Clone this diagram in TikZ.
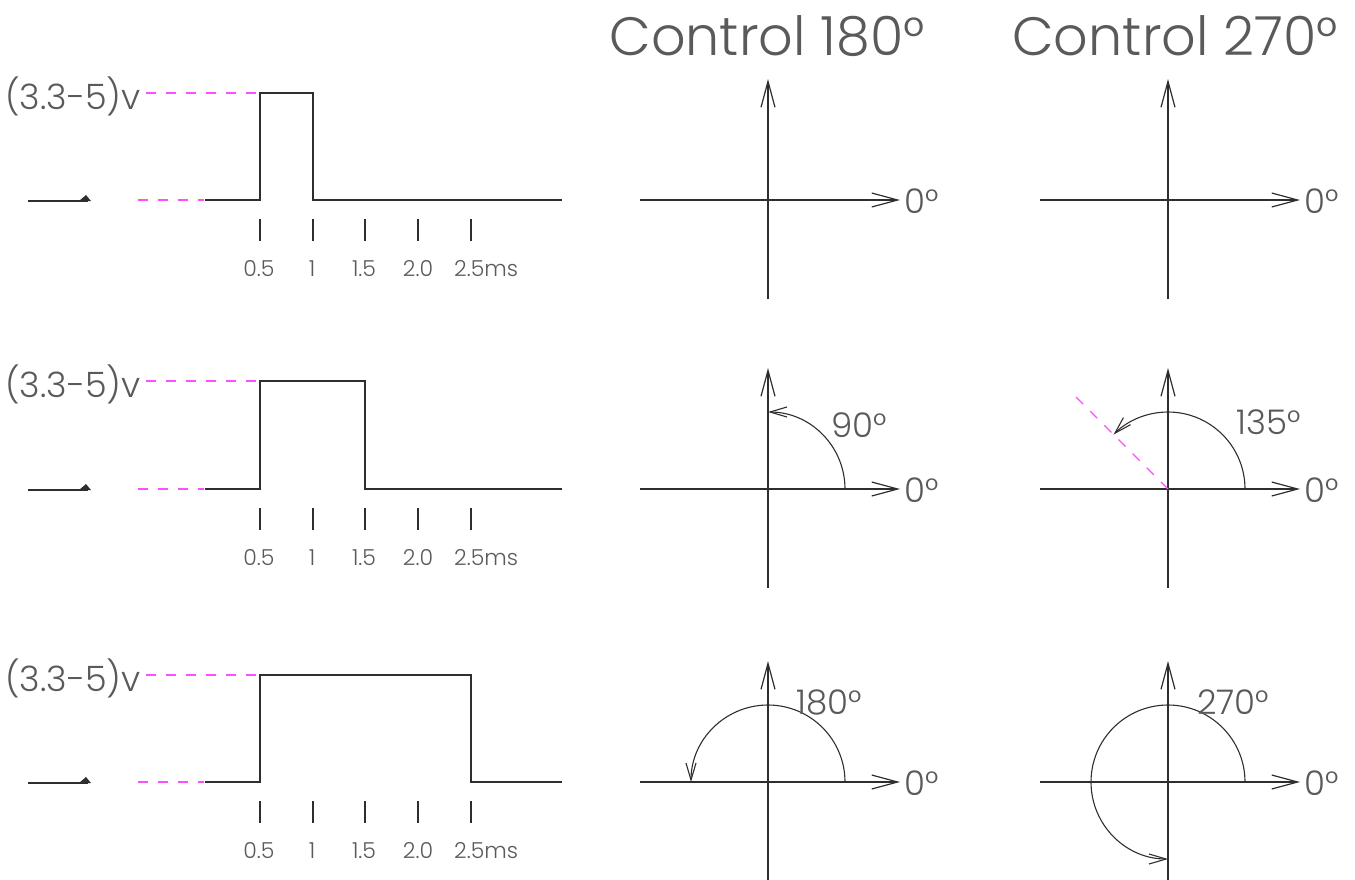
\documentclass[tikz,border=0pt]{standalone}
\usepackage{fontspec}
\setmainfont{Poppins}[UprightFont=* Light]
\usetikzlibrary{arrows.meta}
\definecolor{ink}{HTML}{2E2E2E}
\definecolor{txt}{HTML}{5A5A5A}
\definecolor{mag}{HTML}{FF4DFF}
\tikzset{
  wave/.style={draw=ink, line width=1.3pt, line join=miter},
  tickline/.style={draw=ink, line width=1.1pt},
  magdash/.style={draw=mag, line width=1.2pt, dash pattern=on 10pt off 10pt},
  axis/.style={draw=ink, line width=1.2pt, -{Straight Barb[length=26pt,width=14pt,line width=1.2pt]}},
  arcarrow/.style={draw=ink, line width=1.1pt, -{Straight Barb[length=17pt,width=10pt,line width=1.1pt]}},
  ticklbl/.style={text=txt, inner sep=0pt, font=\fontsize{22}{22}\selectfont},
  volt/.style={text=txt, inner sep=0pt, font=\fontsize{35}{35}\selectfont},
  deg/.style={text=txt, inner sep=0pt, font=\fontsize{34}{34}\selectfont},
  title/.style={text=txt, inner sep=0pt, font=\fontsize{54}{54}\selectfont},
}
\begin{document}
\begin{tikzpicture}[x=1pt,y=1pt]
\useasboundingbox (0,0) rectangle (1355,-879);

% titles
\node[title] (t1) at (767,-36) {Control 180°};
\node[title] (t2) at (1175,-36) {Control 270°};

% waveforms
\foreach \r/\b/\h/\f in {1/200/93/313, 2/489/381/365, 3/782/675/471} {
  \coordinate (s\r) at (205,-\b);
  \coordinate (up\r) at (260,-\h);
  \coordinate (dn\r) at (\f,-\b);
  \coordinate (e\r) at (562,-\b);
  \draw[wave] (s\r) -| (up\r) -| (dn\r) -- (e\r);
  % ground-like mark
  \coordinate (g\r) at (28,-\b-1);
  \coordinate (gh\r) at (88,-\b-1);
  \draw[ink, line width=1.6pt] (g\r) -- (gh\r);
  \fill[ink] (79,-\b-1) -- (91,-\b-1) -- (86,-\b+5) -- cycle;
  % voltage label and dashed guides
  \node[volt, anchor=east] (v\r) at (141,-\h-3) {(3.3-5)v};
  \coordinate (hd\r) at (146,-\h);
  \coordinate (hu\r) at (259,-\h);
  \draw[magdash] (hd\r) -- (hu\r);
  \coordinate (bd\r) at (138,-\b);
  \coordinate (bu\r) at (204,-\b);
  \draw[magdash] (bd\r) -- (bu\r);
  % ticks
  \foreach \x in {260,313,365,418,471} {
    \draw[tickline] (\x,-\b-19) -- (\x,-\b-41);
  }
  \node[ticklbl] (la\r) at (259,-\b-69) {0.5};
  \node[ticklbl] (lb\r) at (312,-\b-69) {1};
  \node[ticklbl] (lc\r) at (364,-\b-69) {1.5};
  \node[ticklbl] (ld\r) at (418,-\b-69) {2.0};
  \node[ticklbl, anchor=west] (le\r) at (454,-\b-69) {2.5ms};
  % axes
  \foreach \c/\cx in {A/768, B/1168} {
    \coordinate (o\c\r) at (\cx,-\b);
    \coordinate (xl\c\r) at (\cx-128,-\b);
    \coordinate (xr\c\r) at (\cx+132,-\b);
    \coordinate (yb\c\r) at (\cx,-\b-99);
    \coordinate (yt\c\r) at (\cx,-\b+121);
    \draw[axis] (xl\c\r) -- (xr\c\r);
    \draw[axis] (yb\c\r) -- (yt\c\r);
    \node[deg, anchor=west] (z\c\r) at (\cx+136,-\b-1) {0°};
  }
}

% angle arcs
\draw[arcarrow] (oA2) ++(77,0) arc[start angle=0, end angle=90, radius=77];
\node[deg] (d90) at (859,-425) {90°};

\draw[magdash] (oB2) -- ++(135:130) coordinate (m135);
\draw[arcarrow] (oB2) ++(77,0) arc[start angle=0, end angle=135, radius=77];
\node[deg] (d135) at (1269,-422) {135°};

\draw[arcarrow] (oA3) ++(77,0) arc[start angle=0, end angle=180, radius=77];
\node[deg] (d180) at (829,-702) {180°};

\draw[arcarrow] (oB3) ++(77,0) arc[start angle=0, end angle=270, radius=77];
\node[deg] (d270) at (1233,-702) {270°};
\end{tikzpicture}
\end{document}
